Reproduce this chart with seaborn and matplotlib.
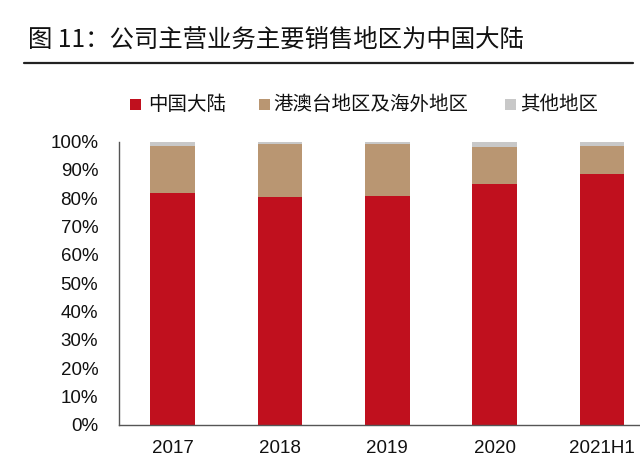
import pandas as pd
import seaborn as sns
import matplotlib.pyplot as plt
from matplotlib.patches import Rectangle
from matplotlib.lines import Line2D

# Data (share of revenue, %)
years = ['2017', '2018', '2019', '2020', '2021H1']
mainland = [82.0, 80.6, 80.8, 85.2, 88.6]
hk_overseas = [16.6, 18.6, 18.3, 13.0, 10.0]
other = [100 - a - b for a, b in zip(mainland, hk_overseas)]

series_names = ['中国大陆', '港澳台地区及海外地区', '其他地区']
colors = ['#C0101E', '#B99672', '#C8C8C8']
title = '图 11：公司主营业务主要销售地区为中国大陆'

sns.set_theme(style='white')
plt.rcParams['font.family'] = ['Liberation Sans', 'Noto Sans CJK SC', 'DejaVu Sans']
cjk = ['Noto Sans CJK SC', 'DejaVu Sans']

df = pd.DataFrame({'year': years, 'mainland': mainland,
                   'hk': hk_overseas, 'other': other})
df['top1'] = df['mainland'] + df['hk']
df['top2'] = df['top1'] + df['other']

W, H = 640, 473
fig = plt.figure(figsize=(6.4, 4.73), dpi=100)
ax = fig.add_axes([119 / W, 1 - 424.7 / H, 536.5 / W, 283 / H])

# stacked bars: draw cumulative totals from top layer down
for col, c in zip(['top2', 'top1', 'mainland'], colors[::-1]):
    sns.barplot(data=df, x='year', y=col, color=c, width=0.416,
                saturation=1, linewidth=0, ax=ax)

ax.set_xlim(-0.5, 4.5)
ax.set_ylim(0, 100)
ax.set_yticks(range(0, 101, 10))
ax.set_yticklabels([f'{v}%' for v in range(0, 101, 10)])
ax.set_xlabel('')
ax.set_ylabel('')
ax.set_xticks([i + 0.5 for i in range(4)], minor=True)

for side in ['top', 'right']:
    ax.spines[side].set_visible(False)
for side in ['left', 'bottom']:
    ax.spines[side].set_color('#555555')
    ax.spines[side].set_linewidth(1.0)

ax.tick_params(axis='y', which='major', direction='in', length=4, width=1,
               color='#555555', labelsize=13.5, pad=15, labelcolor='#111111')
ax.tick_params(axis='x', which='major', length=0, labelsize=13.5, pad=11,
               labelcolor='#111111')
ax.tick_params(axis='x', which='minor', direction='in', length=4, width=1,
               color='#555555')

# title and rule
fig.text(28 / W, 1 - 40 / H, title, family=cjk, fontsize=17.6,
         va='center', ha='left', color='#111111')
fig.add_artist(Line2D([24 / W, 633 / W], [1 - 63 / H, 1 - 63 / H],
                      color='#222222', linewidth=1.6))

# legend, placed entry by entry as in the reference
sq_x = [130, 259, 505]
txt_x = [148, 273, 520]
for name, c, sx, tx in zip(series_names, colors, sq_x, txt_x):
    fig.add_artist(Rectangle((sx / W, 1 - 110.5 / H), 11 / W, 11 / H,
                             facecolor=c, edgecolor='none',
                             transform=fig.transFigure))
    fig.text(tx / W, 1 - 105 / H, name, family=cjk, fontsize=14,
             va='center', ha='left', color='#111111')

fig.savefig('out.png', dpi=100)
